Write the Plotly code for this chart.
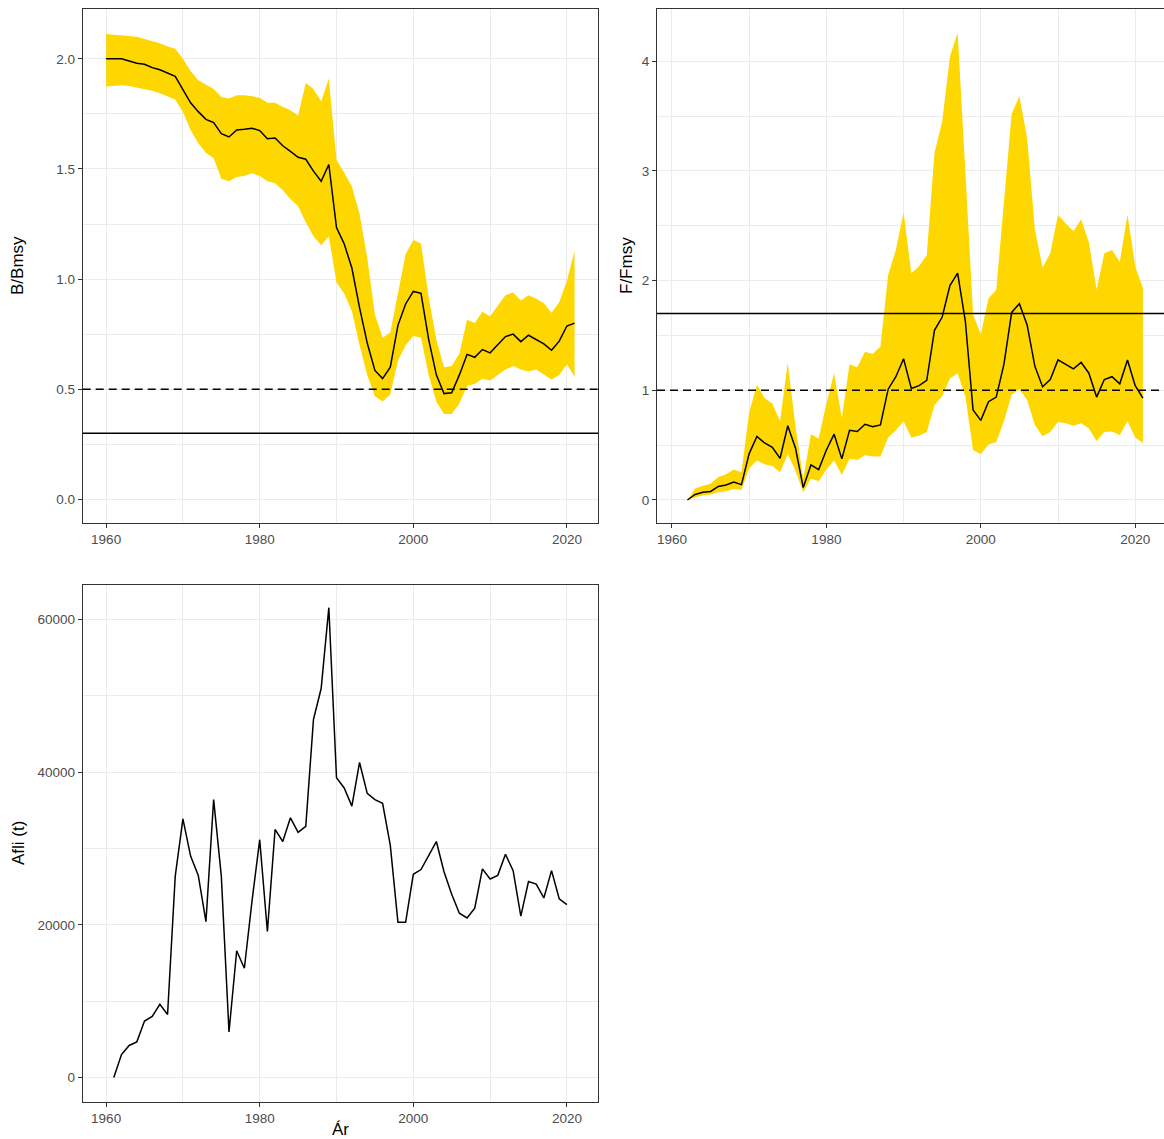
import plotly.graph_objects as go

# ---- data ----
b_years = list(range(1960, 2022))
b_median = [2.00, 2.00, 2.00, 1.99, 1.98, 1.975, 1.96, 1.95, 1.935, 1.92,
            1.86, 1.80, 1.76, 1.725, 1.71, 1.66, 1.645, 1.677, 1.68, 1.685,
            1.674, 1.637, 1.64, 1.605, 1.58, 1.553, 1.544, 1.49, 1.444, 1.52,
            1.234, 1.16, 1.05, 0.87, 0.71, 0.585, 0.548, 0.60, 0.79, 0.887,
            0.944, 0.935, 0.726, 0.565, 0.48, 0.484, 0.565, 0.658, 0.645, 0.68,
            0.665, 0.70, 0.739, 0.75, 0.716, 0.745, 0.726, 0.706, 0.677, 0.718,
            0.787, 0.80]
b_upper = [2.113, 2.11, 2.108, 2.105, 2.10, 2.09, 2.08, 2.07, 2.056, 2.045,
           2.00, 1.944, 1.903, 1.882, 1.863, 1.826, 1.82, 1.834, 1.834, 1.83,
           1.823, 1.80, 1.80, 1.782, 1.766, 1.742, 1.89, 1.863, 1.806, 1.91,
           1.54, 1.484, 1.42, 1.298, 1.097, 0.839, 0.734, 0.758, 0.944, 1.113,
           1.177, 1.161, 0.919, 0.726, 0.60, 0.605, 0.661, 0.815, 0.80, 0.852,
           0.831, 0.879, 0.927, 0.939, 0.903, 0.927, 0.911, 0.89, 0.847, 0.895,
           0.992, 1.129]
b_lower = [1.874, 1.877, 1.88, 1.877, 1.871, 1.863, 1.855, 1.844, 1.831, 1.815,
           1.758, 1.677, 1.616, 1.573, 1.548, 1.455, 1.444, 1.463, 1.468, 1.48,
           1.468, 1.444, 1.435, 1.403, 1.363, 1.33, 1.258, 1.194, 1.153, 1.194,
           0.984, 0.935, 0.855, 0.70, 0.565, 0.468, 0.444, 0.476, 0.629, 0.70,
           0.742, 0.734, 0.565, 0.444, 0.387, 0.387, 0.435, 0.516, 0.524, 0.548,
           0.54, 0.565, 0.589, 0.605, 0.589, 0.58, 0.589, 0.568, 0.544, 0.565,
           0.613, 0.556]

f_years = list(range(1962, 2022))
f_median = [0.0, 0.05, 0.07, 0.078, 0.124, 0.137, 0.163, 0.14, 0.423, 0.58,
            0.52, 0.48, 0.38, 0.677, 0.472, 0.114, 0.32, 0.277, 0.456, 0.60,
            0.375, 0.635, 0.625, 0.69, 0.668, 0.684, 1.01, 1.124, 1.287, 1.016,
            1.042, 1.09, 1.547, 1.668, 1.954, 2.068, 1.629, 0.82, 0.726, 0.896,
            0.938, 1.238, 1.71, 1.79, 1.596, 1.22, 1.033, 1.098, 1.277, 1.238,
            1.195, 1.254, 1.156, 0.938, 1.098, 1.124, 1.059, 1.277, 1.042, 0.928]
f_upper = [0.0, 0.104, 0.13, 0.147, 0.21, 0.235, 0.277, 0.254, 0.80, 1.05,
           0.928, 0.88, 0.717, 1.254, 0.668, 0.195, 0.60, 0.56, 0.88, 1.156,
           0.75, 1.238, 1.21, 1.352, 1.33, 1.40, 2.05, 2.28, 2.62, 2.068,
           2.13, 2.23, 3.16, 3.45, 4.04, 4.26, 3.0, 1.69, 1.51, 1.84,
           1.915, 2.72, 3.52, 3.68, 3.30, 2.47, 2.12, 2.25, 2.60, 2.52,
           2.45, 2.56, 2.35, 1.92, 2.25, 2.28, 2.17, 2.60, 2.13, 1.93]
f_lower = [0.0, 0.026, 0.04, 0.05, 0.07, 0.08, 0.10, 0.09, 0.29, 0.36,
           0.325, 0.31, 0.254, 0.417, 0.267, 0.07, 0.195, 0.17, 0.277, 0.36,
           0.228, 0.375, 0.365, 0.407, 0.397, 0.397, 0.57, 0.635, 0.717, 0.57,
           0.586, 0.62, 0.863, 0.945, 1.107, 1.156, 0.945, 0.456, 0.417, 0.505,
           0.528, 0.717, 0.96, 1.01, 0.912, 0.684, 0.58, 0.62, 0.71, 0.70,
           0.677, 0.70, 0.651, 0.537, 0.62, 0.625, 0.593, 0.717, 0.57, 0.52]

catch_years = list(range(1961, 2021))
catch_t = [0, 3000, 4200, 4670, 7390, 8010, 9590, 8250, 26370, 33860,
           28990, 26470, 20410, 36390, 26370, 5960, 16600, 14310, 23130, 31140,
           19120, 32480, 30900, 34000, 32090, 32900, 46880, 50930, 61520, 39250,
           37910, 35530, 41250, 37200, 36390, 35910, 30420, 20320, 20320, 26610,
           27230, 29140, 30900, 26940, 23990, 21510, 20890, 22170, 27320, 25990,
           26470, 29230, 27090, 21130, 25660, 25320, 23510, 27090, 23410, 22650]

b_lim, b_trigger = 0.3, 0.5
f_lim, f_target = 1.7, 1.0

GOLD = "#FFD700"
W, H = 1164, 1139
FONT = "Liberation Sans, Arial, Helvetica, sans-serif"


def band(x, lo, hi, xa, ya):
    return go.Scatter(x=x + x[::-1], y=hi + lo[::-1], fill="toself",
                      fillcolor=GOLD, line=dict(width=0), mode="lines",
                      hoverinfo="skip", xaxis=xa, yaxis=ya)


def med(x, y, xa, ya):
    return go.Scatter(x=x, y=y, mode="lines", line=dict(color="black", width=1.5),
                      xaxis=xa, yaxis=ya)


fig = go.Figure()
fig.add_trace(band(b_years, b_lower, b_upper, "x", "y"))
fig.add_trace(med(b_years, b_median, "x", "y"))
fig.add_trace(band(f_years, f_lower, f_upper, "x2", "y2"))
fig.add_trace(med(f_years, f_median, "x2", "y2"))
fig.add_trace(med(catch_years, catch_t, "x3", "y3"))

# reference lines
for xr, yr, val, dash in [("x", "y", b_lim, "solid"), ("x", "y", b_trigger, "8px,5px"),
                          ("x2", "y2", f_lim, "solid"), ("x2", "y2", f_target, "8px,5px")]:
    fig.add_shape(type="line", xref=xr + " domain", yref=yr, x0=0, x1=1, y0=val, y1=val,
                  line=dict(color="black", width=1.4, dash=dash))

grid = "#EBEBEB"
border = "#333333"
tickfont = dict(family=FONT, size=13.5, color="#4D4D4D")


def xax(domain, rng, mirror=True):
    return dict(domain=domain, range=rng, tickvals=[1960, 1980, 2000, 2020],
                showgrid=True, gridcolor=grid, gridwidth=1.1,
                minor=dict(showgrid=True, gridcolor=grid, gridwidth=0.6, tickvals=[1970, 1990, 2010]),
                showline=True, linecolor=border, linewidth=1, mirror=mirror,
                ticks="outside", ticklen=4, tickcolor=border, tickfont=tickfont,
                zeroline=False)


def yax(domain, rng, major, minor, fmt=None, mirror=True, anchor="x"):
    d = dict(domain=domain, range=rng, tickvals=major,
             showgrid=True, gridcolor=grid, gridwidth=1.1,
             minor=dict(showgrid=True, gridcolor=grid, gridwidth=0.6, tickvals=minor),
             showline=True, linecolor=border, linewidth=1, mirror=mirror,
             ticks="outside", ticklen=4, tickcolor=border, tickfont=tickfont,
             zeroline=False, anchor=anchor)
    if fmt:
        d["tickformat"] = fmt
    return d


top_y = [1 - 522.7 / H, 1 - 9 / H]
bot_y = [1 - 1101.5 / H, 1 - 585 / H]
left_x = [82.7 / W, 598 / W]
right_x = [657 / W, 1.0]

fig.update_layout(
    width=W, height=H, margin=dict(l=0, r=0, t=0, b=0),
    paper_bgcolor="white", plot_bgcolor="white", showlegend=False,
    font=dict(family=FONT),
    xaxis=dict(xax(left_x, [1956.95, 2024.05]), anchor="y"),
    yaxis=yax(top_y, [-0.106, 2.226], [0, 0.5, 1.0, 1.5, 2.0],
              [0.25, 0.75, 1.25, 1.75], fmt=".1f", anchor="x"),
    xaxis2=dict(xax(right_x, [1958.06, 2023.73]), anchor="y2"),
    yaxis2=yax(top_y, [-0.207, 4.476], [0, 1, 2, 3, 4], [0.5, 1.5, 2.5, 3.5],
               mirror=False, anchor="x2"),
    xaxis3=dict(xax(left_x, [1956.95, 2024.05]), anchor="y3"),
    yaxis3=yax(bot_y, [-3139, 64487], [0, 20000, 40000, 60000],
               [10000, 30000, 50000], fmt="d", anchor="x3"),
)

titlefont = dict(family=FONT, size=17, color="black")
for text, x, y, ang in [("B/Bmsy", 18, 266, -90), ("F/Fmsy", 627, 266, -90),
                        ("Afli (t)", 18, 843, -90), ("Ár", 340, 1129, 0)]:
    fig.add_annotation(text=text, xref="paper", yref="paper", x=x / W, y=1 - y / H,
                       showarrow=False, textangle=ang, font=titlefont,
                       xanchor="center", yanchor="middle")

# drop the browser's default page margin so the figure fills the window
fig.write_html("out.html", config={"displayModeBar": False},
               post_script="document.body.style.margin='0';")
